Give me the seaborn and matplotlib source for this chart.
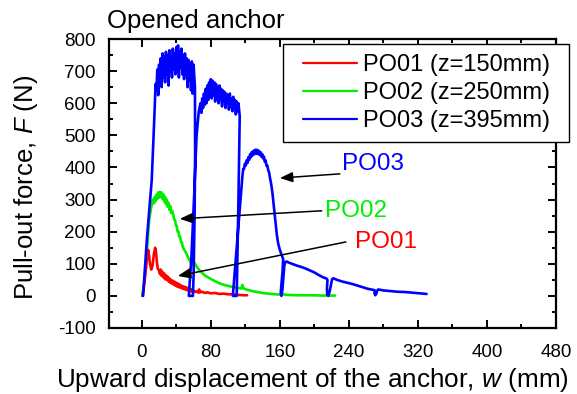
import matplotlib
matplotlib.use("Agg")
import matplotlib.pyplot as plt
from matplotlib.lines import Line2D
from matplotlib.patches import Rectangle
from matplotlib.ticker import MultipleLocator
import seaborn as sns

# ---- measured pull-out curves: upward displacement w (mm) and force F (N) ----
po01_w = [1, 3, 5, 6.5, 7.5, 8.5, 9.5, 11, 12.5, 14, 15.5, 16.5, 17.5, 18.5, 20,
          21, 22, 23, 24, 25, 26, 27, 28, 29, 30, 31, 32, 33, 34, 35, 36, 37, 38,
          39, 40, 41, 42, 43, 44, 45, 46, 47, 48, 49, 50, 51, 52, 53, 54, 55, 56,
          57, 58, 59, 60, 62, 64, 65.5, 66.5, 67.5, 70, 73, 76, 80, 85, 90, 95,
          100, 106, 112, 118, 122]
po01_f = [0, 40, 90, 130, 143, 125, 100, 82, 95, 130, 150, 135, 105, 85, 80,
          68, 82, 62, 75, 58, 70, 52, 64, 50, 60, 45, 55, 41, 50, 38, 47, 35, 44,
          32, 41, 29, 38, 27, 35, 25, 32, 23, 30, 21, 28, 19, 26, 17, 24, 16, 22,
          14, 20, 13, 17, 12, 15, 10, 20, 11, 13, 9, 11, 8, 9, 6, 7,
          5, 5, 3, 2, 2]

po02_w = [0.5, 3, 6, 8.5, 11.5, 13, 14, 15, 16, 17, 18, 19, 20, 21, 22, 23, 24,
          25, 26, 27, 28, 29, 30, 31, 32, 33, 34, 35, 36.5, 37.5, 38.5, 39.5,
          40.5, 41.5, 42.5, 43.5, 44.5, 45.5, 46.5, 47.5, 50, 52, 54, 56, 58,
          59.5, 61, 62, 63.5, 65, 67.5, 70.5, 74, 78.5, 84, 90, 97, 105, 111,
          115.5, 116.5, 117.5, 119, 122, 130, 140, 150, 160, 165, 167, 170, 180,
          195, 210, 224]
po02_f = [0, 45, 140, 237, 285, 300, 288, 308, 295, 315, 302, 322, 306, 324,
          308, 322, 302, 316, 294, 308, 286, 300, 278, 290, 268, 280, 258, 266,
          252, 238, 236, 220, 218, 200, 200, 184, 183, 168, 166, 152, 140, 130,
          118, 108, 100, 96, 103, 98, 92, 86, 78, 70, 62, 55, 47, 39, 33, 28,
          25, 23, 34, 24, 22, 19, 14, 9, 6, 4, 5, 3, 3, 2, 2, 1, 1]

po03_w = [1.5, 6, 11.5, 14, 16,
          17, 18, 19, 20, 21, 22, 23, 24, 25, 26, 27, 28, 29, 30, 31, 32, 33,
          34, 35, 36, 37, 38, 39, 40, 41, 42, 43, 44, 45, 46, 47, 48, 49, 50,
          51, 52, 53, 54, 55, 56, 57, 58, 59, 60,
          61.6, 61.8, 61.2, 60, 59.2,
          54.5, 57.5, 60.5, 63.5, 66,
          68, 69, 70, 71, 72, 73, 74, 75, 76, 77, 78, 79, 80, 81, 82, 83, 84,
          85, 86, 87, 88, 89, 90, 91, 92, 93, 94, 95, 96, 97, 98, 99, 100, 101,
          102, 103, 104, 105, 106, 107, 108, 109, 110, 111, 112,
          113.5, 112, 110,
          105.5, 108.5, 111.5, 114.5, 116.5,
          117.5, 118.5, 119.5, 120.5, 121.5, 122.5, 123.5, 124.5, 125.5, 126.5,
          127.5, 128.5, 129.5, 130.5, 131.5, 132.5, 133.5, 134.5, 135.5, 136.5,
          137.5, 138.5, 139.5, 140.5, 141.5, 142.5, 143.5, 144.5, 145.5, 146.5,
          147.5, 148.5, 149.5, 150.5, 151.5, 152.5, 153.5, 154.5, 155.5, 156.5,
          157.5, 158.5, 160, 161.5, 163, 163.8,
          163.2, 162, 161, 161.8, 163, 164.2, 165.2, 166.5, 168,
          170, 175, 180, 185, 190, 195, 200, 205, 210, 214,
          215.2, 214.6, 214.8, 216.2, 217.8, 219.5, 220.5, 222,
          226, 232, 238, 244, 250, 256, 262, 268,
          270, 269.6, 270.6, 272, 272.8, 274,
          280, 288, 296, 305, 314, 322, 330]
po03_f = [0, 180, 360, 520, 660,
          640, 705, 625, 720, 660, 740, 650, 755, 680, 745, 665, 760, 690, 750,
          655, 765, 700, 745, 680, 770, 705, 755, 690, 775, 700, 780, 680, 760,
          710, 770, 690, 750, 675, 755, 700, 740, 650, 735, 670, 725, 640, 730,
          630, 720,
          650, 450, 250, 60, 0,
          0, 120, 300, 500, 573,
          600, 570, 615, 585, 630, 595, 645, 600, 655, 610, 665, 620, 675, 615,
          670, 625, 665, 605, 660, 620, 650, 600, 655, 610, 645, 590, 640, 605,
          635, 585, 630, 600, 625, 580, 630, 590, 615, 575, 620, 585, 610, 565,
          605, 575, 600,
          560, 300, 0,
          0, 100, 200, 300, 370,
          395, 396, 412, 406, 422, 414, 432, 424, 441, 432,
          448, 438, 452, 441, 455, 443, 455, 442, 452, 439,
          448, 434, 442, 428, 434, 418, 422, 405, 406, 392,
          385, 368, 355, 338, 318, 292, 265, 238, 212, 190,
          172, 158, 143, 132, 122, 115,
          80, 40, 10, 0, 20, 60, 95, 106, 107,
          104, 99, 94, 90, 85, 79, 73, 65, 58, 54,
          50, 25, 4, 0, 15, 38, 52, 55,
          50, 45, 41, 37, 32, 27, 22, 19,
          17, 8, 2, 8, 17, 20,
          17, 15, 13, 12, 10, 8, 6]

series_labels = ["PO01 (z=150mm)", "PO02 (z=250mm)", "PO03 (z=395mm)"]
series_colors = ["#ff0000", "#00ee00", "#0000ff"]

x_ticks = [0, 80, 160, 240, 320, 400, 480]
y_ticks = [-100, 0, 100, 200, 300, 400, 500, 600, 700, 800]

sns.set_theme(style="ticks")
plt.rcParams["font.family"] = ["Liberation Sans", "DejaVu Sans"]
plt.rcParams["mathtext.fontset"] = "custom"
plt.rcParams["mathtext.it"] = "Liberation Sans:italic"
plt.rcParams["mathtext.rm"] = "Liberation Sans"
plt.rcParams["axes.unicode_minus"] = False

W, H = 577, 394
fig = plt.figure(figsize=(W / 100, H / 100), dpi=100)
ax = fig.add_axes([109 / W, 1 - 328 / H, 447 / W, 289 / H])

# draw green, then red, then blue on top
for w, f, c in [(po02_w, po02_f, series_colors[1]),
                (po01_w, po01_f, series_colors[0]),
                (po03_w, po03_f, series_colors[2])]:
    sns.lineplot(x=w, y=f, sort=False, estimator=None, color=c, lw=1.9, ax=ax)

ax.set_xlim(-38, 480)
ax.set_ylim(-100, 800)
ax.set_xticks(x_ticks)
ax.set_yticks(y_ticks)
ax.xaxis.set_minor_locator(MultipleLocator(40))
ax.yaxis.set_minor_locator(MultipleLocator(50))

for sp in ax.spines.values():
    sp.set_visible(True)
    sp.set_color("black")
    sp.set_linewidth(1.6)

ax.tick_params(which="both", direction="in", top=True, right=True,
               color="black", width=1.4, labelsize=13.5, labelcolor="black")
ax.tick_params(which="major", length=5.5)
ax.tick_params(which="minor", length=3)
ax.tick_params(axis="x", which="major", pad=11.5)
ax.tick_params(axis="y", which="major", pad=9.5)

ax.set_xlabel("Upward displacement of the anchor, $w$ (mm)", fontsize=18.8,
              color="black", va="baseline")
ax.xaxis.set_label_coords((312 - 109) / 447, (328 - 387) / 289)
ax.set_ylabel("Pull-out force, $F$ (N)", fontsize=18.5, color="black")
ax.yaxis.set_label_coords((40 - 109) / 447, (328 - 187.5) / 289)

fig.text(107 / W, 1 - 28 / H, "Opened anchor", fontsize=18.5, ha="left", va="baseline",
         color="black")

# callouts naming each curve
arrow_kw = dict(arrowstyle="-|>,head_length=0.55,head_width=0.22", color="black",
                lw=1.1, shrinkA=0, shrinkB=0, mutation_scale=14)
callouts = [("PO03", series_colors[2], (232, 410), (229.5, 380), (160, 367)),
            ("PO02", series_colors[1], (212, 264), (208.5, 265), (44, 240)),
            ("PO01", series_colors[0], (247, 167), (236.5, 168), (41.7, 62))]
for name, col, txt_xy, start, tip in callouts:
    ax.annotate("", xy=tip, xytext=start, arrowprops=arrow_kw)
    ax.text(txt_xy[0], txt_xy[1], name, color=col, fontsize=17.5, ha="left", va="center")

# legend with a square frame that overlaps the right spine
fig.add_artist(Rectangle((283 / W, 1 - 142 / H), 286 / W, 98 / H,
                         transform=fig.transFigure, facecolor="white",
                         edgecolor="black", lw=1.0, zorder=4))
handles = [Line2D([], [], color=c, lw=1.6) for c in series_colors]
leg = fig.legend(handles, series_labels, loc="upper left",
                 bbox_to_anchor=(303 / W, 1 - 54 / H), frameon=False,
                 borderpad=0, borderaxespad=0, handlelength=2.3,
                 handletextpad=0.25, labelspacing=0.25, fontsize=17)
leg.set_zorder(5)
for t in leg.get_texts():
    t.set_color("black")

fig.savefig("out.png", dpi=100)
